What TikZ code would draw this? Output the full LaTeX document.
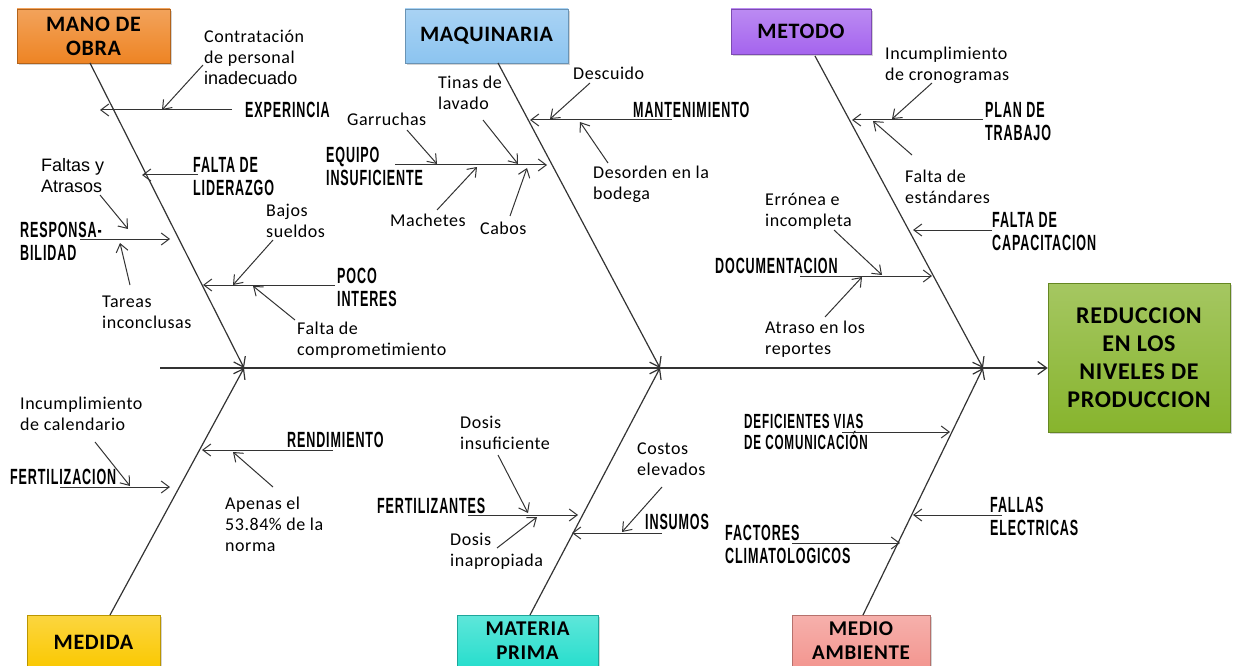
\documentclass[tikz,border=0pt]{standalone}
\usepackage{fontspec}
\setmainfont{Carlito}[LetterSpace=3]
\newfontfamily\condfont{Liberation Sans}[FakeStretch=0.57,LetterSpace=4]
\newfontfamily\arialfont{Liberation Sans}
\usetikzlibrary{arrows.meta,shadows}

\definecolor{orabox}{RGB}{238,132,36}
\definecolor{maqbox}{RGB}{140,196,240}
\definecolor{metbox}{RGB}{165,100,238}
\definecolor{medbox}{RGB}{250,200,0}
\definecolor{matbox}{RGB}{40,222,205}
\definecolor{ambbox}{RGB}{243,150,144}
\definecolor{goalbox}{RGB}{135,180,45}

\tikzset{
  cat/.style={draw=#1!75!black, line width=0.5pt, top color=#1!75!white, bottom color=#1,
    drop shadow={opacity=0.35, shadow xshift=2pt, shadow yshift=-2pt},
    font=\fontsize{22}{24}\selectfont\bfseries, align=center, inner sep=0pt},
  lbl/.style={font=\condfont\bfseries\fontsize{22}{23}\selectfont, anchor=west, align=left, inner sep=0pt},
  note/.style={font=\fontsize{18}{21}\selectfont, anchor=west, align=left, inner sep=0pt},
  bone/.style={line width=1.2pt, black!80, -{Straight Barb[length=9pt,width=13pt]}},
  cause/.style={line width=1pt, black!80, -{Straight Barb[length=8pt,width=12pt]}}
}

\begin{document}
\begin{tikzpicture}[x=1pt,y=-1pt]
\useasboundingbox (0,0) rectangle (1235,666);
\node[cat=orabox, minimum width=153pt, minimum height=54pt] (mano) at (93.5,36) {MANO DE\\OBRA};
\node[cat=maqbox, minimum width=163pt, minimum height=54pt] (maq) at (486.5,36) {MAQUINARIA};
\node[cat=metbox, minimum width=140pt, minimum height=45pt] (met) at (801,31.5) {METODO};
\node[cat=medbox, minimum width=133pt, minimum height=54pt] (med) at (93.5,642) {MEDIDA};
\node[cat=matbox, minimum width=141pt, minimum height=52pt, font=\fontsize{21}{24}\selectfont\bfseries] (mat) at (527.5,641) {MATERIA\\PRIMA};
\node[cat=ambbox, minimum width=138pt, minimum height=52pt, font=\fontsize{21}{24}\selectfont\bfseries] (amb) at (861,641) {MEDIO\\AMBIENTE};
\node[cat=goalbox, minimum width=182pt, minimum height=149pt, font=\fontsize{24}{28}\selectfont\bfseries] (goal) at (1139,357.5) {REDUCCION\\EN LOS\\NIVELES DE\\PRODUCCION};

\coordinate (s0) at (160,368);
\coordinate (j1) at (244,368);
\coordinate (j2) at (660,368);
\coordinate (j3) at (983,368);
\coordinate (b1) at (90,63);
\coordinate (b2) at (110,615);
\coordinate (b3) at (498,63);
\coordinate (b4) at (530,615);
\coordinate (b5) at (815,56);
\coordinate (b6) at (863,615);
\draw[bone] (s0) -- (s0 -| goal.west);
\draw[bone] (b1) -- (j1);
\draw[bone] (b2) -- (j1);
\draw[bone] (b3) -- (j2);
\draw[bone] (b4) -- (j2);
\draw[bone] (b5) -- (j3);
\draw[bone] (b6) -- (j3);

\node[lbl] (exper) at (245,110) {EXPERINCIA};
\node[lbl] (lider) at (193,176.5) {FALTA DE\\LIDERAZGO};
\node[lbl] (respo) at (20,241) {RESPONSA-\\BILIDAD};
\node[lbl] (poco) at (337,287) {POCO\\INTERES};
\node[lbl] (mant) at (633,110) {MANTENIMIENTO};
\node[lbl] (equipo) at (326,166.5) {EQUIPO\\INSUFICIENTE};
\node[lbl] (plan) at (985,121.5) {PLAN DE\\TRABAJO};
\node[lbl] (capac) at (992,231.5) {FALTA DE\\CAPACITACION};
\node[lbl] (docu) at (715,266) {DOCUMENTACION};
\node[lbl] (rend) at (287,440) {RENDIMIENTO};
\node[lbl] (fertz) at (10,477) {FERTILIZACION};
\node[lbl] (fertt) at (377,506) {FERTILIZANTES};
\node[lbl] (insum) at (645,522) {INSUMOS};
\node[lbl, font=\condfont\bfseries\fontsize{20.5}{21}\selectfont] (vias) at (744,431.5) {DEFICIENTES VIAS\\DE COMUNICACIÓN};
\node[lbl] (fallas) at (990,516.5) {FALLAS\\ELECTRICAS};
\node[lbl] (clima) at (725,544.5) {FACTORES\\CLIMATOLOGICOS};

\node[note] (contr) at (204,57) {Contratación\\de personal\\{\arialfont inadecuado}};
\node[note, font=\arialfont\fontsize{18}{21}\selectfont] (faltas) at (41,175.5) {Faltas y\\Atrasos};
\node[note] (tareas) at (102,312.5) {Tareas\\inconclusas};
\node[note] (bajos) at (266,220.5) {Bajos\\sueldos};
\node[note] (compr) at (297,340) {Falta de\\comprometimiento};
\node[note] (desc) at (573,73) {Descuido};
\node[note] (desor) at (593,184) {Desorden en la\\bodega};
\node[note] (garr) at (347,119) {Garruchas};
\node[note] (tinas) at (438,92.5) {Tinas de\\lavado};
\node[note] (mach) at (390,220) {Machetes};
\node[note] (cabos) at (480,228) {Cabos};
\node[note] (incr) at (885,65.5) {Incumplimiento\\de cronogramas};
\node[note] (estand) at (905,186.5) {Falta de\\estándares};
\node[note] (erron) at (765,211.5) {Errónea e\\incompleta};
\node[note] (atraso) at (765,339.5) {Atraso en los\\reportes};
\node[note] (incal) at (20,413.5) {Incumplimiento\\de calendario};
\node[note] (apenas) at (225,524.5) {Apenas el\\53.84\% de la\\norma};
\node[note] (insuf) at (460,432.5) {Dosis\\insuficiente};
\node[note] (inapr) at (450,551.5) {Dosis\\inapropiada};
\node[note] (costos) at (637,459) {Costos\\elevados};

\coordinate (expa) at (232,110);   \coordinate (expb) at (100,110);
\coordinate (contra) at (203,65);  \coordinate (contrb) at (162,110);
\coordinate (lida) at (198,175);   \coordinate (lidb) at (142,175);
\coordinate (respa) at (80,239);   \coordinate (respb) at (170,239);
\coordinate (faltasa) at (100,195); \coordinate (faltasb) at (128,229);
\coordinate (tareasa) at (130,285); \coordinate (tareasb) at (120,243);
\coordinate (pocoa) at (335,285);  \coordinate (pocob) at (203,285);
\coordinate (bajosa) at (273,240); \coordinate (bajosb) at (233,285);
\coordinate (compra) at (295,320); \coordinate (comprb) at (253,286);
\coordinate (manta) at (672,120);  \coordinate (mantb) at (530,120);
\coordinate (desca) at (590,83);   \coordinate (descb) at (550,119);
\coordinate (desora) at (608,163); \coordinate (desorb) at (580,122);
\coordinate (equipa) at (395,165); \coordinate (equipb) at (547,165);
\coordinate (garra) at (407,130);  \coordinate (garrb) at (437,164);
\coordinate (tinasa) at (483,120); \coordinate (tinasb) at (518,164);
\coordinate (macha) at (437,210);  \coordinate (machb) at (477,167);
\coordinate (cabosa) at (510,216); \coordinate (cabosb) at (527,168);
\coordinate (plana) at (983,120);  \coordinate (planb) at (852,120);
\coordinate (incra) at (932,83);   \coordinate (incrb) at (892,119);
\coordinate (estanda) at (912,155); \coordinate (estandb) at (873,121);
\coordinate (capaca) at (992,230); \coordinate (capacb) at (913,230);
\coordinate (docua) at (800,276);  \coordinate (docub) at (932,276);
\coordinate (errona) at (834,230); \coordinate (erronb) at (882,275);
\coordinate (atrasoa) at (825,317); \coordinate (atrasob) at (862,277);
\coordinate (renda) at (333,450);  \coordinate (rendb) at (202,450);
\coordinate (apenasa) at (273,487); \coordinate (apenasb) at (233,452);
\coordinate (fertza) at (60,487);  \coordinate (fertzb) at (170,487);
\coordinate (incala) at (95,442);  \coordinate (incalb) at (130,486);
\coordinate (fertta) at (468,515); \coordinate (ferttb) at (578,515);
\coordinate (insufa) at (498,455); \coordinate (insufb) at (528,513);
\coordinate (inapra) at (497,548); \coordinate (inaprb) at (537,517);
\coordinate (insuma) at (662,533); \coordinate (insumb) at (572,533);
\coordinate (costosa) at (662,487); \coordinate (costosb) at (622,532);
\coordinate (viasa) at (842,432);  \coordinate (viasb) at (950,432);
\coordinate (fallasa) at (1002,515); \coordinate (fallasb) at (913,515);
\coordinate (climaa) at (792,543); \coordinate (climab) at (900,543);

\draw[cause] (expa) -- (expb);
\draw[cause] (contra) -- (contrb);
\draw[cause] (lida) -- (lidb);
\draw[cause] (respa) -- (respb);
\draw[cause] (faltasa) -- (faltasb);
\draw[cause] (tareasa) -- (tareasb);
\draw[cause] (pocoa) -- (pocob);
\draw[cause] (bajosa) -- (bajosb);
\draw[cause] (compra) -- (comprb);
\draw[cause] (manta) -- (mantb);
\draw[cause] (desca) -- (descb);
\draw[cause] (desora) -- (desorb);
\draw[cause] (equipa) -- (equipb);
\draw[cause] (garra) -- (garrb);
\draw[cause] (tinasa) -- (tinasb);
\draw[cause] (macha) -- (machb);
\draw[cause] (cabosa) -- (cabosb);
\draw[cause] (plana) -- (planb);
\draw[cause] (incra) -- (incrb);
\draw[cause] (estanda) -- (estandb);
\draw[cause] (capaca) -- (capacb);
\draw[cause] (docua) -- (docub);
\draw[cause] (errona) -- (erronb);
\draw[cause] (atrasoa) -- (atrasob);
\draw[cause] (renda) -- (rendb);
\draw[cause] (apenasa) -- (apenasb);
\draw[cause] (fertza) -- (fertzb);
\draw[cause] (incala) -- (incalb);
\draw[cause] (fertta) -- (ferttb);
\draw[cause] (insufa) -- (insufb);
\draw[cause] (inapra) -- (inaprb);
\draw[cause] (insuma) -- (insumb);
\draw[cause] (costosa) -- (costosb);
\draw[cause] (viasa) -- (viasb);
\draw[cause] (fallasa) -- (fallasb);
\draw[cause] (climaa) -- (climab);
\end{tikzpicture}
\end{document}
